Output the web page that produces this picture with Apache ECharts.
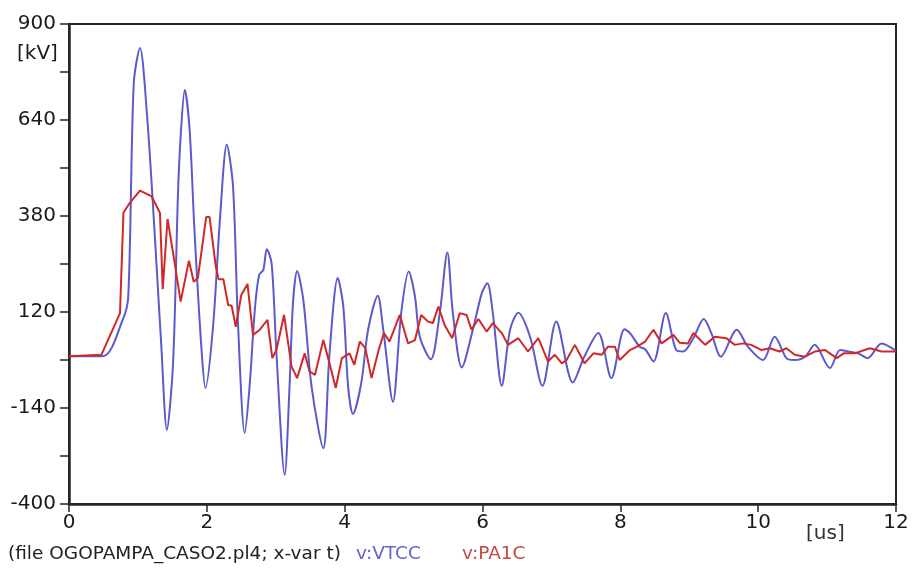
<!DOCTYPE html>
<html>
<head>
<meta charset="utf-8">
<script src="https://cdn.jsdelivr.net/npm/echarts@6/dist/echarts.min.js"></script>
<style>
html,body{margin:0;padding:0;background:#fff;}
#c{width:912px;height:570px;}
</style>
</head>
<body>
<div id="c"></div>
<script>
// ---- data (time in us, voltage in kV) ----
var vtccT = [0,0.49,0.78,0.86,0.94,1.03,1.13,1.24,1.34,1.42,1.51,1.58,1.62,1.68,1.75,1.82,1.92,1.98,
  2.09,2.19,2.29,2.38,2.45,2.55,2.62,2.70,2.76,2.82,2.87,2.94,3.01,3.13,3.20,3.25,3.31,3.40,3.52,3.69,3.78,3.90,3.98,
  4.05,4.12,4.24,4.34,4.48,4.56,4.70,4.82,4.93,5.02,5.09,5.25,5.38,5.49,5.57,5.70,5.86,5.99,
  6.07,6.15,6.28,6.40,6.52,6.69,6.87,7.07,7.31,7.48,7.68,7.87,8.06,8.14,8.28,8.36,8.48,8.66,8.81,8.91,
  9.06,9.21,9.32,9.46,9.69,9.85,10.07,10.24,10.41,10.53,10.68,10.82,11.04,11.19,11.31,11.45,11.59,11.79,12];
var vtccV = [0,0,99,162,740,835,659,343,26,-199,-19,433,595,722,614,343,26,-86,
  80,370,573,460,99,-208,-82,135,221,234,290,252,8,-321,-82,144,231,153,-82,-249,8,212,135,
  -82,-156,-73,72,164,72,-123,117,230,162,53,-8,117,281,117,-30,72,171,
  198,117,-80,72,118,53,-80,94,-71,0,63,-59,73,63,26,19,-14,117,17,13,
  49,101,63,-1,72,26,-10,53,-5,-10,-1,31,-32,17,13,8,-5,35,15];

var pa1cT = [0,0.47,0.74,0.79,0.88,1.03,1.20,1.32,1.36,1.43,1.53,1.62,1.74,1.81,1.87,1.99,
  2.04,2.13,2.17,2.24,2.31,2.36,2.42,2.50,2.59,2.67,2.77,2.88,2.95,3.01,3.12,3.23,3.31,3.42,3.49,3.57,3.69,3.78,3.87,3.96,
  4.07,4.14,4.22,4.30,4.39,4.50,4.57,4.65,4.80,4.92,5.02,5.11,5.21,5.28,5.36,5.45,5.56,5.67,5.77,5.84,5.94,
  6.06,6.15,6.28,6.37,6.52,6.66,6.81,6.95,7.05,7.15,7.22,7.34,7.48,7.61,7.73,7.82,7.92,7.99,
  8.14,8.24,8.36,8.48,8.60,8.77,8.86,8.98,9.06,9.23,9.37,9.54,9.66,9.78,9.90,
  10.05,10.17,10.31,10.41,10.53,10.68,10.82,10.97,11.04,11.14,11.24,11.40,11.62,11.79,12];
var pa1cV = [0,4,117,389,415,449,433,388,182,372,257,148,259,202,212,377,
  377,243,209,209,139,137,80,166,196,58,72,99,-5,17,112,-28,-59,8,-41,-50,44,-19,-86,-5,
  8,-23,40,22,-59,22,63,40,112,35,44,112,94,90,135,85,49,117,112,72,101,
  67,90,63,31,49,13,49,-14,4,-19,-10,31,-19,8,4,26,26,-10,
  17,26,40,72,35,58,37,35,63,31,53,49,31,35,31,
  17,22,13,22,4,-1,13,17,8,-5,8,8,22,13,13];

var xTickValues = [0,2,4,6,8,10,12];
var yTickValues = [-400,-270,-140,-10,120,250,380,510,640,770,900];
var yLabelValues = [-400,-140,120,380,640,900];

function pairs(t, v){ var out=[]; for(var i=0;i<t.length;i++){ out.push([t[i], v[i]]); } return out; }

var chart = echarts.init(document.getElementById('c'), null, {renderer:'canvas'});
var FONT = '"DejaVu Sans", Verdana, sans-serif';
var axisColor = '#2b2424';
chart.setOption({
  animation: false,
  backgroundColor: '#ffffff',
  grid: {left: 69, right: 16, top: 24, bottom: 66, show: true, borderColor: axisColor, borderWidth: 2, backgroundColor: 'transparent'},
  xAxis: {
    type: 'value', min: 0, max: 12, interval: 2,
    axisLine: {show: true, onZero: false, lineStyle: {color: axisColor, width: 2.5}},
    axisTick: {show: true, inside: false, length: 8, lineStyle: {color: axisColor, width: 1.5}, customValues: xTickValues},
    axisLabel: {show: true, margin: 9, color: '#1a1a1a', fontSize: 20, fontFamily: FONT, customValues: xTickValues},
    splitLine: {show: false}
  },
  yAxis: {
    type: 'value', min: -400, max: 900,
    axisLine: {show: true, onZero: false, lineStyle: {color: axisColor, width: 2.5}},
    axisTick: {show: true, inside: false, length: 9, lineStyle: {color: axisColor, width: 1.5}, customValues: yTickValues},
    axisLabel: {show: true, margin: 13, color: '#1a1a1a', fontSize: 20, fontFamily: FONT, customValues: yLabelValues},
    splitLine: {show: false}
  },
  graphic: [
    {type: 'text', left: 17, top: 44, style: {text: '[kV]', fill: '#1a1a1a', font: '20px ' + FONT}},
    {type: 'text', left: 806, top: 524, style: {text: '[us]', fill: '#333333', font: '20px ' + FONT}},
    {type: 'text', left: 8, top: 545, style: {text: '(file OGOPAMPA_CASO2.pl4; x-var t)', fill: '#222222', font: '18.5px ' + FONT}},
    {type: 'text', left: 356, top: 545, style: {text: 'v:VTCC', fill: '#6464cc', font: '18.5px ' + FONT}},
    {type: 'text', left: 462, top: 545, style: {text: 'v:PA1C', fill: '#c44848', font: '18.5px ' + FONT}}
  ],
  series: [
    {name: 'v:VTCC', type: 'line', data: pairs(vtccT, vtccV), showSymbol: false, smooth: 0.3,
     lineStyle: {color: '#5a5acd', width: 2}, z: 2},
    {name: 'v:PA1C', type: 'line', data: pairs(pa1cT, pa1cV), showSymbol: false, smooth: false,
     lineStyle: {color: '#d02828', width: 2}, z: 3}
  ]
});
</script>
</body>
</html>
